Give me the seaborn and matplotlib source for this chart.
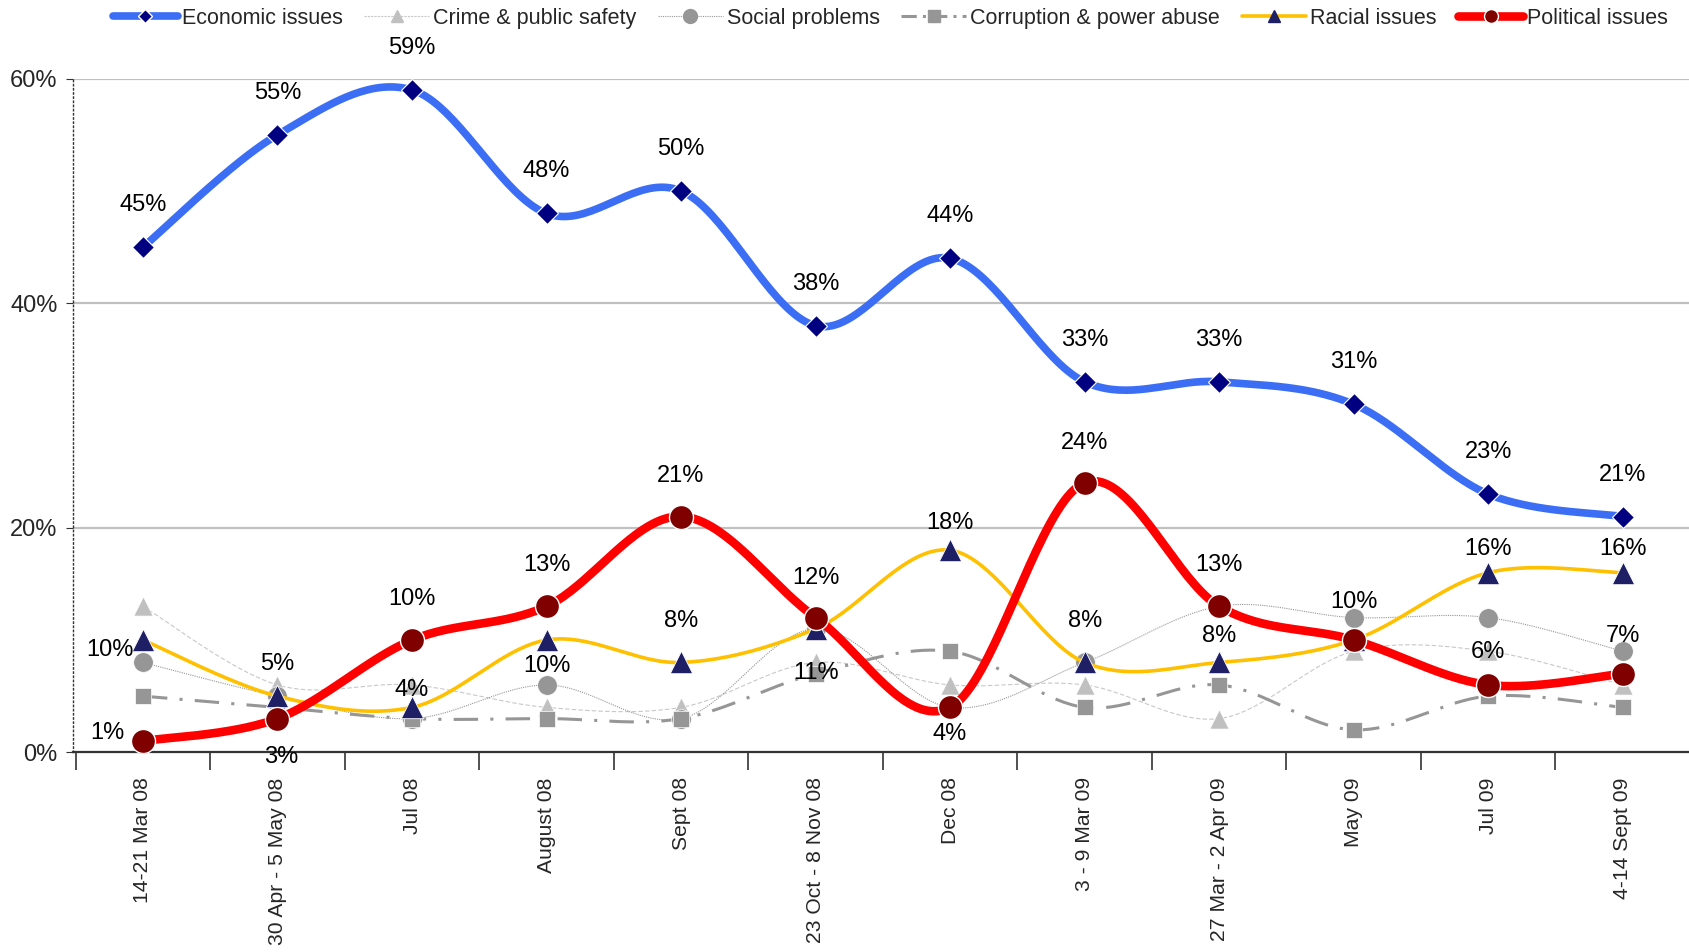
import numpy as np
import pandas as pd
import matplotlib
matplotlib.use("Agg")
import matplotlib.pyplot as plt
from matplotlib.lines import Line2D
import seaborn as sns

# ---------------------------------------------------------------------------
# Data
# ---------------------------------------------------------------------------
periods = ["14-21 Mar 08", "30 Apr - 5 May 08", "Jul 08", "August 08", "Sept 08",
           "23 Oct - 8 Nov 08", "Dec 08", "3 - 9 Mar 09", "27 Mar - 2 Apr 09",
           "May 09", "Jul 09", "4-14 Sept 09"]

economic = [45, 55, 59, 48, 50, 38, 44, 33, 33, 31, 23, 21]
crime = [13, 6, 6, 4, 4, 8, 6, 6, 3, 9, 9, 6]
social = [8, 5, 3, 6, 3, 11, 4, 8, 13, 12, 12, 9]
corruption = [5, 4, 3, 3, 3, 7, 9, 4, 6, 2, 5, 4]
racial = [10, 5, 4, 10, 8, 11, 18, 8, 8, 10, 16, 16]
political = [1, 3, 10, 13, 21, 12, 4, 24, 13, 10, 6, 7]

y_ticks = [0, 20, 40, 60]

# label placement (pixel offsets from the marker), None = no label
economic_offsets = [(0, 42)] * 12
political_offsets = [(-36, 8), (4, -38), (0, 41), (0, 41), (0, 41), (0, 40),
                     (0, -27), (0, 40), (0, 41), (0, 38), (0, 33), (0, 38)]
racial_offsets = [(-33, -10), (0, 32), (0, 17), (0, -26), (0, 41), (0, -44),
                  (0, 27), (0, 41), (0, 26), None, (0, 24), (0, 24)]

LABEL_FONT = ["Liberation Sans", "DejaVu Sans"]


def smooth_curve(xs, ys, steps=40):
    """Excel-like smoothed line: Catmull-Rom style cubic Bezier segments."""
    pts = np.column_stack([xs, ys]).astype(float)
    padded = np.vstack([pts[0], pts, pts[-1]])
    t = np.linspace(0, 1, steps)[:, None]
    out = []
    for i in range(1, len(padded) - 2):
        p0, p1, p2, p3 = padded[i - 1], padded[i], padded[i + 1], padded[i + 2]
        c1 = p1 + (p2 - p0) / 6.0
        c2 = p2 - (p3 - p1) / 6.0
        seg = ((1 - t) ** 3) * p1 + 3 * ((1 - t) ** 2) * t * c1 + 3 * (1 - t) * t ** 2 * c2 + t ** 3 * p2
        out.append(seg if i == 1 else seg[1:])
    curve = np.vstack(out)
    return pd.DataFrame({"x": curve[:, 0], "y": curve[:, 1]})


def draw_series(ax, values, line_kw, marker_kw, z):
    x = np.arange(len(values))
    curve = smooth_curve(x, values)
    sns.lineplot(data=curve, x="x", y="y", ax=ax, sort=False, estimator=None,
                 zorder=z, **line_kw)
    points = pd.DataFrame({"x": x, "y": values})
    sns.scatterplot(data=points, x="x", y="y", ax=ax, zorder=z + 0.5, **marker_kw)


def add_labels(ax, values, offsets):
    for i, (v, off) in enumerate(zip(values, offsets)):
        if off is None:
            continue
        ax.annotate(f"{v}%", (i, v), xytext=off, textcoords="offset pixels",
                    ha="center", va="center", fontsize=17, family=LABEL_FONT,
                    color="black", zorder=20, annotation_clip=False)


def main():
    sns.set_theme(style="white")
    plt.rcParams["font.family"] = LABEL_FONT

    fig = plt.figure(figsize=(16.9, 9.52), dpi=100)
    ax = fig.add_axes([0.0432, 0.2098, 0.9568, 0.7075])

    # gridlines
    for g in y_ticks[1:]:
        ax.axhline(g, color="#c0c0c0", linewidth=1.6, zorder=0)

    # background series
    draw_series(ax, crime,
                dict(color="#c8c8c8", linewidth=0.8, linestyle=(0, (4, 2))),
                dict(marker="^", s=190, color="#c0c0c0", edgecolor="white", linewidth=0.5), 2)
    draw_series(ax, social,
                dict(color="#969696", linewidth=0.8, linestyle=(0, (1, 1))),
                dict(marker="o", s=200, color="#969696", edgecolor="white", linewidth=0.5), 2.2)
    draw_series(ax, corruption,
                dict(color="#969696", linewidth=2.2, linestyle=(0, (8, 4, 1, 4))),
                dict(marker="s", s=130, color="#969696", edgecolor="white", linewidth=0.5), 2.4)
    # main series
    draw_series(ax, racial,
                dict(color="#ffc000", linewidth=2.6),
                dict(marker="^", s=260, color="#1f1f66", edgecolor="white", linewidth=0.6), 4)
    draw_series(ax, economic,
                dict(color="#3c6ef5", linewidth=5.5),
                dict(marker="D", s=125, color="#000080", edgecolor="white", linewidth=0.8), 5)
    draw_series(ax, political,
                dict(color="#ff0000", linewidth=6.2),
                dict(marker="o", s=300, color="#800000", edgecolor="white", linewidth=1.0), 6)

    add_labels(ax, economic, economic_offsets)
    add_labels(ax, political, political_offsets)
    add_labels(ax, racial, racial_offsets)

    # axes
    ax.set_xlim(-0.52, 11.46)
    ax.set_ylim(0, 60)
    ax.set_xlabel("")
    ax.set_ylabel("")
    ax.set_yticks(y_ticks)
    ax.set_yticklabels([f"{t}%" for t in y_ticks], fontsize=17, family=LABEL_FONT)
    ax.tick_params(axis="y", left=True, length=5, width=0.8, pad=6, color="#333333")

    ax.set_xticks(np.arange(len(periods)))
    ax.set_xticklabels(periods, rotation=90, fontsize=15.2, family=LABEL_FONT, va="top")
    ax.set_xticks(np.arange(len(periods) + 1) - 0.5, minor=True)
    ax.tick_params(axis="x", which="major", length=0, pad=18)
    ax.tick_params(axis="x", which="minor", bottom=True, length=13, width=1.2, color="#333333")

    for side in ["top", "right"]:
        ax.spines[side].set_visible(False)
    ax.spines["bottom"].set_color("#333333")
    ax.spines["bottom"].set_linewidth(1.6)
    ax.spines["left"].set_color("#333333")
    ax.spines["left"].set_linewidth(1.0)
    ax.spines["left"].set_linestyle((0, (1, 2)))

    # legend
    handles = [
        Line2D([], [], color="#3c6ef5", linewidth=5.5, marker="D", markersize=7,
               markerfacecolor="#000080", markeredgecolor="white"),
        Line2D([], [], color="#c8c8c8", linewidth=0.8, linestyle=(0, (2, 1)), marker="^",
               markersize=9, markerfacecolor="#c0c0c0", markeredgecolor="#c0c0c0"),
        Line2D([], [], color="#969696", linewidth=0.8, linestyle=(0, (1, 1)), marker="o",
               markersize=10, markerfacecolor="#969696", markeredgecolor="#969696"),
        Line2D([], [], color="#969696", linewidth=2.2, linestyle=(0, (5, 2, 1, 2)), marker="s",
               markersize=9, markerfacecolor="#969696", markeredgecolor="#969696"),
        Line2D([], [], color="#ffc000", linewidth=2.6, marker="^", markersize=8,
               markerfacecolor="#1f1f66", markeredgecolor="#1f1f66"),
        Line2D([], [], color="#ff0000", linewidth=6.2, marker="o", markersize=10,
               markerfacecolor="#800000", markeredgecolor="white"),
    ]
    names = ["Economic issues", "Crime & public safety", "Social problems",
             "Corruption & power abuse", "Racial issues", "Political issues"]
    fig.legend(handles, names, loc="center", bbox_to_anchor=(0.527, 0.981), ncol=6,
               frameon=False, handlelength=3.0, handletextpad=0.2,
               columnspacing=1.0, prop={"family": LABEL_FONT, "size": 15.5})

    fig.savefig("out.png", dpi=100)
    plt.close(fig)


if __name__ == "__main__":
    main()
